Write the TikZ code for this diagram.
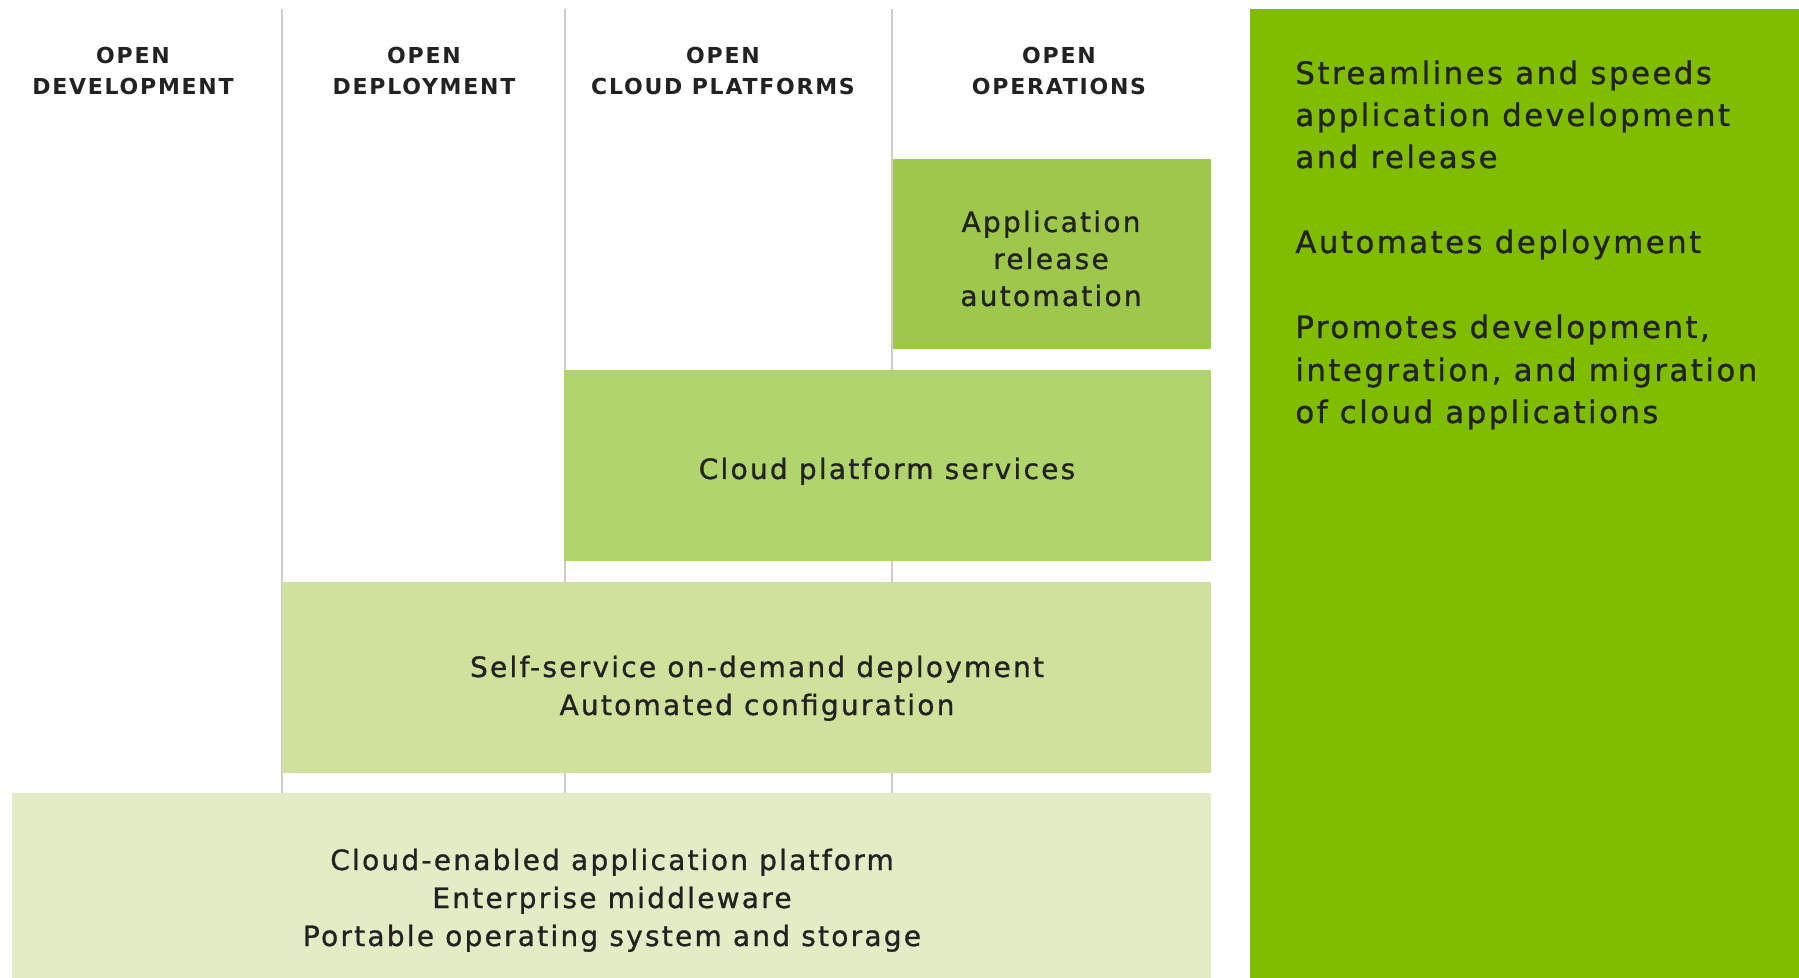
\documentclass[tikz,border=0pt]{standalone}
\usepackage{fontspec}
\setmainfont{DejaVu Sans}
\newfontfamily\hdrfont[LetterSpace=8]{DejaVu Sans}
\newfontfamily\txtfont[LetterSpace=8,FakeBold=1]{DejaVu Sans}
\definecolor{ink}{HTML}{222222}
\definecolor{linegray}{HTML}{CCCCCC}
\definecolor{tierA}{HTML}{9DC84B}
\definecolor{tierB}{HTML}{B2D46C}
\definecolor{tierC}{HTML}{CFE19B}
\definecolor{tierD}{HTML}{E2EDC6}
\definecolor{panelgreen}{HTML}{80BC00}
\begin{document}
\begin{tikzpicture}[x=0.5pt,y=-0.5pt,
  colline/.style={draw=linegray, line width=1pt},
  tier/.style={draw=none, inner sep=0pt, outer sep=0pt, anchor=north west},
  hdr/.style={anchor=base, inner sep=0pt, text=ink, font=\hdrfont\bfseries\fontsize{11}{13}\selectfont},
  boxtxt/.style={anchor=base, inner sep=0pt, text=ink, font=\txtfont\fontsize{14}{17}\selectfont},
  sidetxt/.style={anchor=base west, inner sep=0pt, text=ink, font=\txtfont\fontsize{15.4}{18}\selectfont}]
\useasboundingbox (0,0) rectangle (1799,978);
\fill[white] (0,0) rectangle (1799,978);
\clip (0,0) rectangle (1799,978);

% column separators
\coordinate (l1t) at (282,9);  \coordinate (l1b) at (282,793);
\coordinate (l2t) at (565,9);  \coordinate (l2b) at (565,793);
\coordinate (l3t) at (892,9);  \coordinate (l3b) at (892,793);
\draw[colline] (l1t) -- (l1b);
\draw[colline] (l2t) -- (l2b);
\draw[colline] (l3t) -- (l3b);

% headers
\node[hdr] (h1a) at (133,64) {OPEN};
\node[hdr] (h1b) at (133,95) {DEVELOPMENT};
\node[hdr] (h2a) at (424,64) {OPEN};
\node[hdr] (h2b) at (424,95) {DEPLOYMENT};
\node[hdr] (h3a) at (723,64) {OPEN};
\node[hdr] (h3b) at (723,95) {CLOUD PLATFORMS};
\node[hdr] (h4a) at (1059,64) {OPEN};
\node[hdr] (h4b) at (1059,95) {OPERATIONS};

% stacked tiers
\node[tier, fill=tierA, minimum width=159pt, minimum height=95pt] (app) at (893,159) {};
\node[tier, fill=tierB, minimum width=323.5pt, minimum height=95.5pt] (cloud) at (564,370) {};
\node[tier, fill=tierC, minimum width=464.5pt, minimum height=95.5pt] (self) at (282,582) {};
\node[tier, fill=tierD, minimum width=599.5pt, minimum height=103.5pt] (base) at (12,793) {};

\node[boxtxt] (appt1) at (1051,232) {Application};
\node[boxtxt] (appt2) at (1051,269) {release};
\node[boxtxt] (appt3) at (1051,306) {automation};

\node[boxtxt] (cloudt) at (887,479) {Cloud platform services};

\node[boxtxt] (selft1) at (757,677) {Self-service on-demand deployment};
\node[boxtxt] (selft2) at (757,715) {Automated configuration};

\node[boxtxt] (baset1) at (612,870) {Cloud-enabled application platform};
\node[boxtxt] (baset2) at (612,908) {Enterprise middleware};
\node[boxtxt] (baset3) at (612,946) {Portable operating system and storage};

% right panel
\node[tier, fill=panelgreen, minimum width=274.5pt, minimum height=495.5pt] (panel) at (1250,9) {};
\node[sidetxt] (r1) at (1295,84) {Streamlines and speeds};
\node[sidetxt] (r2) at (1295,126) {application development};
\node[sidetxt] (r3) at (1295,168) {and release};
\node[sidetxt] (r4) at (1295,253) {Automates deployment};
\node[sidetxt] (r5) at (1295,338) {Promotes development,};
\node[sidetxt] (r6) at (1295,381) {integration, and migration};
\node[sidetxt] (r7) at (1295,423) {of cloud applications};
\end{tikzpicture}
\end{document}
